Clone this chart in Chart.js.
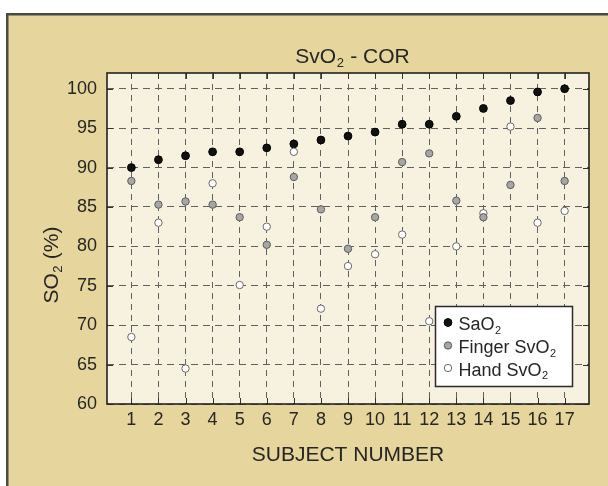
<!DOCTYPE html>
<html>
<head>
<meta charset="utf-8">
<script src="https://cdn.jsdelivr.net/npm/chart.js@4/dist/chart.umd.min.js"></script>
<style>
  html, body { margin: 0; padding: 0; background: #ffffff; }
  #wrap { width: 608px; height: 486px; }
</style>
</head>
<body>
<div id="wrap"><canvas id="c" width="608" height="486"></canvas></div>
<script>
// ---- data ----
const subjects = [1, 2, 3, 4, 5, 6, 7, 8, 9, 10, 11, 12, 13, 14, 15, 16, 17];
const sao2 = [90.0, 91.0, 91.5, 92.0, 92.0, 92.5, 93.0, 93.5, 94.0, 94.5, 95.5, 95.5, 96.5, 97.5, 98.5, 99.6, 100.0];
const fingerSvo2 = [88.3, 85.3, 85.7, 85.3, 83.7, 80.2, 88.8, 84.7, 79.7, 83.7, 90.7, 91.8, 85.8, 83.7, 87.8, 96.3, 88.3];
const handSvo2 = [68.5, 83.0, 64.5, 88.0, 75.1, 82.5, 92.0, 72.1, 77.5, 79.0, 81.5, 70.5, 80.0, 84.2, 95.2, 83.0, 84.5];
const seriesNames = ["SaO2", "Finger SvO2", "Hand SvO2"];
const xTickValues = [1, 2, 3, 4, 5, 6, 7, 8, 9, 10, 11, 12, 13, 14, 15, 16, 17];
const yTickValues = [60, 65, 70, 75, 80, 85, 90, 95, 100];
const chartTitle = "SvO2 - COR";
const xTitle = "SUBJECT NUMBER";
const yTitle = "SO2 (%)";

const FONT = '"Liberation Sans", Arial, Helvetica, sans-serif';
const TEXT = '#262626';

function toPoints(vals) { return subjects.map((s, i) => ({ x: s, y: vals[i] })); }

function richParts(s) {
  const out = []; const re = /O2/g; let last = 0, m;
  while ((m = re.exec(s))) {
    out.push([s.slice(last, m.index + 1), false]);
    out.push(['2', true]);
    last = m.index + 2;
  }
  out.push([s.slice(last), false]);
  return out.filter(p => p[0].length);
}

function drawRich(ctx, str, x, y, size, align) {
  const parts = richParts(str);
  const sub = Math.round(size * 0.62);
  let w = 0;
  const widths = parts.map(p => {
    ctx.font = (p[1] ? sub : size) + 'px ' + FONT;
    const ww = ctx.measureText(p[0]).width + (p[1] ? 1 : 0);
    w += ww; return ww;
  });
  let cx = align === 'center' ? x - w / 2 : x;
  ctx.textBaseline = 'alphabetic';
  ctx.textAlign = 'left';
  ctx.fillStyle = TEXT;
  parts.forEach((p, i) => {
    ctx.font = (p[1] ? sub : size) + 'px ' + FONT;
    ctx.fillText(p[0], cx + (p[1] ? 0.5 : 0), y + (p[1] ? size * 0.2 : 0));
    cx += widths[i];
  });
}

const styles = [
  { bg: '#111111', border: '#000000', r: 3.9 },
  { bg: '#a6a6a6', border: '#5e5e5e', r: 3.7 },
  { bg: '#ffffff', border: '#6a6a6a', r: 3.7 }
];

const decor = {
  id: 'decor',
  beforeDraw(chart) {
    const ctx = chart.ctx, a = chart.chartArea;
    ctx.save();
    ctx.fillStyle = '#ffffff';
    ctx.fillRect(0, 0, 608, 486);
    ctx.fillStyle = '#E6D59C';
    ctx.fillRect(7, 14, 601, 472);
    ctx.strokeStyle = '#4a4a45';
    ctx.lineWidth = 2.5;
    ctx.beginPath();
    ctx.moveTo(7.25, 486); ctx.lineTo(7.25, 14.25); ctx.lineTo(608, 14.25);
    ctx.stroke();
    ctx.fillStyle = '#F7F1DF';
    ctx.fillRect(a.left, a.top, a.right - a.left, a.bottom - a.top);
    ctx.restore();
  },
  beforeDatasetsDraw(chart) {
    const ctx = chart.ctx, a = chart.chartArea;
    const xs = chart.scales.x, ys = chart.scales.y;
    ctx.save();
    ctx.strokeStyle = '#333333';
    ctx.lineWidth = 1;
    ctx.beginPath();
    xTickValues.forEach(v => {
      const px = Math.round(xs.getPixelForValue(v)) + 0.5;
      ctx.moveTo(px, a.top); ctx.lineTo(px, a.top + 6);
      ctx.moveTo(px, a.bottom); ctx.lineTo(px, a.bottom - 6);
    });
    yTickValues.forEach(v => {
      const py = Math.round(ys.getPixelForValue(v)) + 0.5;
      ctx.moveTo(a.left, py); ctx.lineTo(a.left + 6, py);
      ctx.moveTo(a.right, py); ctx.lineTo(a.right - 6, py);
    });
    ctx.stroke();
    ctx.strokeStyle = '#222222';
    ctx.lineWidth = 1.6;
    ctx.strokeRect(a.left, a.top, a.right - a.left, a.bottom - a.top);
    ctx.restore();
  },
  afterDraw(chart) {
    const ctx = chart.ctx, a = chart.chartArea;
    ctx.save();
    drawRich(ctx, chartTitle, (a.left + a.right) / 2 + 4.5, 62.5, 21, 'center');
    drawRich(ctx, xTitle, (a.left + a.right) / 2, 460.5, 21, 'center');
    ctx.save();
    ctx.translate(57.5, 265);
    ctx.rotate(-Math.PI / 2);
    drawRich(ctx, yTitle, 0, 0, 21, 'center');
    ctx.restore();
    const bx = 435.5, by = 306.5, bw = 137, bh = 80;
    ctx.fillStyle = '#ffffff';
    ctx.fillRect(bx, by, bw, bh);
    ctx.strokeStyle = '#2a2a2a';
    ctx.lineWidth = 1.5;
    ctx.strokeRect(bx, by, bw, bh);
    const rows = [323.5, 346.5, 369];
    chart.data.datasets.forEach((ds, i) => {
      const st = styles[i];
      ctx.beginPath();
      ctx.arc(448, rows[i] - 1, st.r, 0, Math.PI * 2);
      ctx.fillStyle = st.bg; ctx.fill();
      ctx.strokeStyle = st.border; ctx.lineWidth = 1; ctx.stroke();
      drawRich(ctx, ds.label, 458.5, rows[i] + 6.5, 18, 'left');
    });
    ctx.restore();
  }
};

const datasets = [sao2, fingerSvo2, handSvo2].map((vals, i) => ({
  label: seriesNames[i],
  data: toPoints(vals),
  backgroundColor: styles[i].bg,
  borderColor: styles[i].border,
  borderWidth: 1,
  pointRadius: styles[i].r,
  pointHoverRadius: styles[i].r,
  showLine: false,
  order: [2, 0, 1][i]
}));

new Chart(document.getElementById('c'), {
  type: 'scatter',
  data: { datasets },
  options: {
    responsive: false,
    devicePixelRatio: 1,
    animation: false,
    events: [],
    layout: { padding: { top: 73, right: 19, left: 0, bottom: 0 } },
    plugins: { legend: { display: false }, title: { display: false }, tooltip: { enabled: false } },
    scales: {
      x: {
        type: 'linear', min: 0.1, max: 17.9,
        afterBuildTicks(s) { s.ticks = xTickValues.map(v => ({ value: v })); },
        afterFit(s) { s.height = 82; },
        ticks: { font: { family: FONT, size: 18 }, color: TEXT, padding: 5, maxRotation: 0, autoSkip: false },
        grid: { color: '#606060', lineWidth: 1, drawTicks: false },
        border: { display: false, dash: [6, 5] }
      },
      y: {
        type: 'linear', min: 60, max: 102,
        afterBuildTicks(s) { s.ticks = yTickValues.map(v => ({ value: v })); },
        afterFit(s) { s.width = 107; },
        ticks: { font: { family: FONT, size: 18 }, color: TEXT, padding: 10 },
        grid: { color: '#606060', lineWidth: 1, drawTicks: false },
        border: { display: false, dash: [7, 5] }
      }
    }
  },
  plugins: [decor]
});
</script>
</body>
</html>
